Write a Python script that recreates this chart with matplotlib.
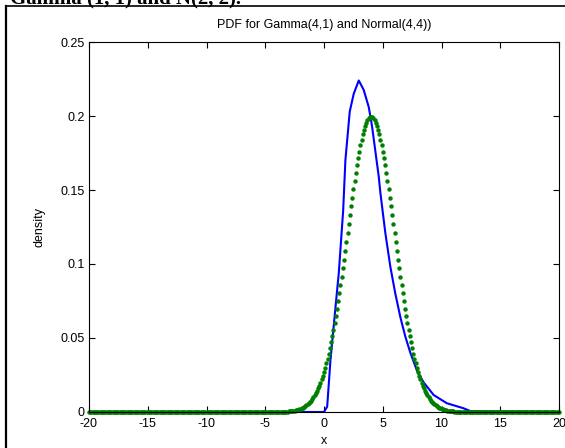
import matplotlib
matplotlib.use("Agg")
import matplotlib.pyplot as plt
import numpy as np
from matplotlib.lines import Line2D

plt.rcParams['font.family'] = ['Liberation Sans', 'DejaVu Sans']

# blue curve: Gamma(4,1) density estimate
gamma_x = [-20, 0.0, 0.27, 0.55, 0.98, 1.26, 1.63, 1.82, 2.19, 2.53, 2.96, 3.38,
           3.81, 4.09, 4.66, 4.80, 5.22, 5.65, 6.07, 6.50, 6.92, 7.35, 7.91,
           8.48, 9.33, 10.46, 11.88, 12.5, 20]
gamma_y = [0, 0, 0.0036, 0.035, 0.071, 0.094, 0.136, 0.170, 0.203, 0.215, 0.224,
           0.2176, 0.206, 0.193, 0.159, 0.148, 0.121, 0.098, 0.080, 0.064, 0.051,
           0.040, 0.028, 0.020, 0.0115, 0.0059, 0.0025, 0.0005, 0]

# green dots: Normal(4,4) density, grid step 0.1 from -20 to 20
normal_x = np.round(np.arange(-20, 20.001, 0.1), 1)
normal_left_tail = [0.0] * 170          # x = -20.0 .. -3.1
normal_core = [                          # x = -3.0 .. 11.0
    0.0004, 0.0005, 0.0006, 0.0007, 0.0009, 0.0010, 0.0012, 0.0014, 0.0016, 0.0019,
    0.0022, 0.0026, 0.0030, 0.0034, 0.0040, 0.0045, 0.0052, 0.0060, 0.0068, 0.0077,
    0.0088, 0.0099, 0.0112, 0.0126, 0.0142, 0.0159, 0.0177, 0.0198, 0.0220, 0.0244,
    0.0270, 0.0298, 0.0328, 0.0360, 0.0395, 0.0431, 0.0470, 0.0511, 0.0555, 0.0600,
    0.0648, 0.0697, 0.0749, 0.0802, 0.0857, 0.0913, 0.0971, 0.1030, 0.1089, 0.1150,
    0.1210, 0.1270, 0.1330, 0.1390, 0.1448, 0.1506, 0.1561, 0.1615, 0.1666, 0.1715,
    0.1760, 0.1803, 0.1841, 0.1876, 0.1907, 0.1933, 0.1955, 0.1972, 0.1985, 0.1992,
    0.1995,
    0.1992, 0.1985, 0.1972, 0.1955, 0.1933, 0.1907, 0.1876, 0.1841, 0.1803, 0.1760,
    0.1715, 0.1666, 0.1615, 0.1561, 0.1506, 0.1448, 0.1390, 0.1330, 0.1270, 0.1210,
    0.1150, 0.1089, 0.1030, 0.0971, 0.0913, 0.0857, 0.0802, 0.0749, 0.0697, 0.0648,
    0.0600, 0.0555, 0.0511, 0.0470, 0.0431, 0.0395, 0.0360, 0.0328, 0.0298, 0.0270,
    0.0244, 0.0220, 0.0198, 0.0177, 0.0159, 0.0142, 0.0126, 0.0112, 0.0099, 0.0088,
    0.0077, 0.0068, 0.0060, 0.0052, 0.0045, 0.0040, 0.0034, 0.0030, 0.0026, 0.0022,
    0.0019, 0.0016, 0.0014, 0.0012, 0.0010, 0.0009, 0.0007, 0.0006, 0.0005, 0.0004,
]
normal_right_tail = [0.0] * 90          # x = 11.1 .. 20.0
normal_y = normal_left_tail + normal_core + normal_right_tail

xticks = [-20, -15, -10, -5, 0, 5, 10, 15, 20]
yticks = [0, 0.05, 0.1, 0.15, 0.2, 0.25]
ytick_labels = ["0", "0.05", "0.1", "0.15", "0.2", "0.25"]

W, H = 565, 448
fig = plt.figure(figsize=(W / 100, H / 100), dpi=100)
ax = fig.add_axes([89 / W, 1 - 412 / H, (559 - 89) / W, (412 - 42) / H])

ax.plot(gamma_x, gamma_y, color=(0, 0, 1), lw=1.5)
ax.plot(normal_x, normal_y, ls='none', marker='o', ms=3.2, mew=0,
        color=(0, 0.5, 0), clip_on=False)

ax.set_xlim(-20, 20)
ax.set_ylim(0, 0.25)
ax.set_xticks(xticks)
ax.set_xticklabels([str(t) for t in xticks])
ax.set_yticks(yticks)
ax.set_yticklabels(ytick_labels)
ax.tick_params(direction='in', top=True, right=True, length=4, width=0.8,
               labelsize=9, colors='black')
ax.tick_params(axis='x', pad=4)
ax.tick_params(axis='y', pad=3)
for s in ax.spines.values():
    s.set_linewidth(0.8)

ax.set_title("PDF for Gamma(4,1) and Normal(4,4))", fontsize=9, pad=10)
ax.set_xlabel("x", fontsize=9, labelpad=4)
ax.set_ylabel("density", fontsize=9, labelpad=11)

# page frame and cut-off heading from the document
fig.add_artist(Line2D([6 / W, 6 / W], [0, 1 - 6 / H], color='black', lw=1.6))
fig.add_artist(Line2D([6 / W, 1], [1 - 6 / H, 1 - 6 / H], color='black', lw=1.2))
fig.text(10 / W, 1 - 3 / H, "Gamma (1, 1) and N(2, 2).", family='Liberation Serif',
         fontweight='bold', fontsize=15, va='baseline', ha='left')

fig.savefig("out.png", dpi=100)
